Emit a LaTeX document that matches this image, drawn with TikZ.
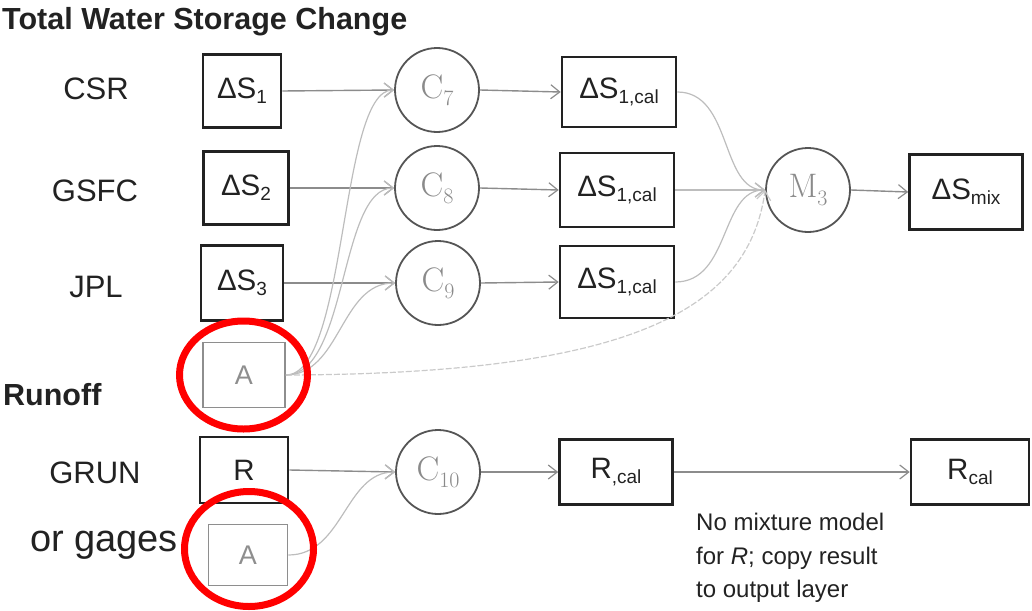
\documentclass[tikz,border=0pt]{standalone}
\usepackage{fontspec}
\setmainfont{Liberation Sans}
\newfontfamily\cmfont{Latin Modern Roman}
\usetikzlibrary{arrows.meta}
\definecolor{boxline}{HTML}{222222}
\definecolor{textc}{HTML}{222222}
\definecolor{circc}{HTML}{555555}
\definecolor{circt}{HTML}{8A8A8A}
\definecolor{arrc}{HTML}{8C8C8C}
\definecolor{curvec}{HTML}{BDBDBD}
\definecolor{agray}{HTML}{8E8E8E}
\definecolor{markred}{HTML}{FF0000}
\newcommand{\lsub}[1]{\raisebox{-0.32ex}{\fontsize{19}{19}\selectfont #1}}
\newcommand{\csub}[1]{\raisebox{-0.5ex}{\fontsize{22}{22}\selectfont #1}}
\begin{document}
\begin{tikzpicture}[x=1pt,y=-1pt,
  box/.style={draw=boxline, line width=2.6pt, inner sep=0pt, text=textc, font=\fontsize{29.5}{29.5}\selectfont},
  abox/.style={draw=agray, line width=1.6pt, inner sep=0pt, text=agray, font=\fontsize{27}{27}\selectfont},
  calcnode/.style={circle, draw=circc, line width=1.8pt, minimum size=84pt, inner sep=0pt, text=circt, font=\cmfont\fontsize{34}{34}\selectfont},
  lab/.style={inner sep=0pt, text=textc, font=\fontsize{31}{31}\selectfont},
  ttl/.style={inner sep=0pt, anchor=west, text=textc, font=\bfseries\fontsize{30.5}{30.5}\selectfont},
  arr/.style={draw=arrc, line width=1.4pt, -{Straight Barb[length=9pt,width=14pt,line width=1.2pt]}},
  carr/.style={draw=curvec, line width=1.2pt, -{Straight Barb[length=9pt,width=14pt,line width=1.2pt]}},
  redmark/.style={draw=markred, line width=7pt}
]
\useasboundingbox (0,0) rectangle (1032,610);

% titles and labels
\node[ttl] (t1) at (2,22) {Total Water Storage Change};
\node[ttl] (t2) at (3,395) {Runoff};
\node[lab] (l1) at (96,89) {CSR};
\node[lab] (l2) at (95,191) {GSFC};
\node[lab] (l3) at (96,287) {JPL};
\node[lab] (l4) at (95,473) {GRUN};
\node[lab, anchor=base, font=\fontsize{38}{38}\selectfont] (l5) at (104,551) {or gages};

% input boxes
\node[box, minimum width=78pt, minimum height=73pt] (s1) at (242,91) {ΔS\lsub{1}};
\node[box, minimum width=85pt, minimum height=73pt] (s2) at (246,188) {ΔS\lsub{2}};
\node[box, minimum width=82pt, minimum height=75pt] (s3) at (242,283) {ΔS\lsub{3}};
\node[abox, minimum width=82pt, minimum height=65pt] (a1) at (244,375) {A};
\node[box, minimum width=88pt, minimum height=66pt] (r) at (244,470) {R};
\node[abox, minimum width=79pt, minimum height=61pt] (a2) at (248,555) {A};

% calibration circles
\node[calcnode] (c7) at (437,90) {C\csub{7}};
\node[calcnode] (c8) at (437,188) {C\csub{8}};
\node[calcnode] (c9) at (438,283) {C\csub{9}};
\node[calcnode] (c10) at (438,472) {C\csub{10}};
\node[calcnode] (m3) at (808,190) {M\csub{3}};

% calibrated boxes
\node[box, minimum width=114pt, minimum height=70pt] (k1) at (619,92) {ΔS\lsub{1,cal}};
\node[box, minimum width=114pt, minimum height=74pt] (k2) at (617,190) {ΔS\lsub{1,cal}};
\node[box, minimum width=114pt, minimum height=72pt] (k3) at (617,282) {ΔS\lsub{1,cal}};
\node[box, minimum width=113pt, minimum height=75pt] (mix) at (966,192) {ΔS\lsub{mix}};
\node[box, minimum width=113pt, minimum height=65pt] (rc) at (616,472) {R\lsub{,cal}};
\node[box, minimum width=118pt, minimum height=65pt] (rc2) at (970,472) {R\lsub{cal}};

% note
\node[inner sep=0pt, anchor=north west, align=left, text=textc, font=\fontsize{24}{33.5}\selectfont] (note) at (696,513) {No mixture model\\for \textit{R}; copy result\\to output layer};

% straight connectors
\draw[arr] (s1.east) -- (c7.west);
\draw[arr] (s2.east) -- (c8.west);
\draw[arr] (s3.east) -- (c9.west);
\draw[arr] (c7.east) -- (k1.west);
\draw[arr] (c8.east) -- (k2.west);
\draw[arr] (c9.east) -- (k3.west);
\draw[arr] (m3.east) -- (mix.west);
\draw[arr] (r.east) -- (c10.west);
\draw[arr] (c10.east) -- (rc.west);
\draw[arr] (rc.east) -- (rc2.west);

% curved connectors
\draw[carr] (a1.east) .. controls +(62,0) and +(-55,0) .. (c7.west);
\draw[carr] (a1.east) .. controls +(62,0) and +(-55,0) .. (c8.west);
\draw[carr] (a1.east) .. controls +(55,0) and +(-55,0) .. (c9.west);
\draw[carr, draw=curvec!80, dash pattern=on 6pt off 2pt] (a1.east) .. controls (620,374) and (748,315) .. (m3.west);
\draw[carr] (k1.east) .. controls +(55,0) and +(-45,0) .. (m3.west);
\draw[carr] (k2.east) -- (m3.west);
\draw[carr] (k3.east) .. controls +(55,0) and +(-45,0) .. (m3.west);
\draw[carr] (a2.east) .. controls +(55,0) and +(-50,0) .. (c10.west);

% red highlight marks
\draw[redmark] (243.5,375) ellipse [x radius=64pt, y radius=54pt];
\draw[redmark] (249,549) ellipse [x radius=64.5pt, y radius=57.5pt];
\end{tikzpicture}
\end{document}
